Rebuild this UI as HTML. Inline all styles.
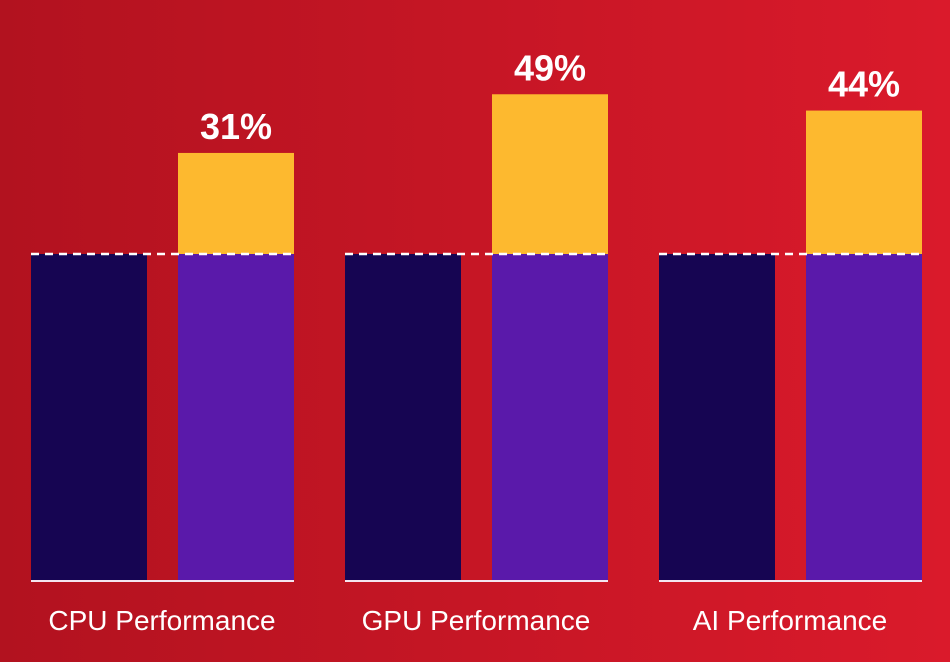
<!DOCTYPE html>
<html><head><meta charset="utf-8"><style>
body{margin:0;width:950px;height:662px;overflow:hidden}
svg{display:block}
text{font-family:"Liberation Sans",sans-serif;fill:#fff}
</style></head><body>
<svg id="chart" width="950" height="662" viewBox="0 0 950 662">
<defs><linearGradient id="bg" x1="0" x2="1" y1="0" y2="0"><stop offset="0" stop-color="#b2121f"/><stop offset="1" stop-color="#da1a2b"/></linearGradient></defs>
<rect width="950" height="662" fill="url(#bg)"/>
</svg>
<script>
const categories = ["CPU Performance","GPU Performance","AI Performance"];
const baseValues = [100,100,100];
const gainValues = [31,49,44];
const gainLabels = ["31%","49%","44%"];

const svg = document.getElementById('chart');
const NS = 'http://www.w3.org/2000/svg';
const baseY = 580, unitPx = 3.26;
const y = v => baseY - v * unitPx;
const groupX = i => 31 + i * 314;
function mk(tag, attrs){const e=document.createElementNS(NS,tag);for(const k in attrs)e.setAttribute(k,attrs[k]);svg.appendChild(e);return e;}
categories.forEach((c,i)=>{
  const gx = groupX(i);
  const r1 = mk('rect',{x:gx,y:y(baseValues[i]),width:116,height:baseY-y(baseValues[i]),fill:'#160552'});
  
  
  const r2 = mk('rect',{x:gx+147,y:y(baseValues[i]),width:116,height:baseY-y(baseValues[i]),fill:'#5a19aa'});
  
  
  const top = y(baseValues[i]+gainValues[i]);
  const r3 = mk('rect',{x:gx+147,y:top,width:116,height:y(baseValues[i])-top,fill:'#fdb92f'});
  
  
  const d = mk('line',{x1:gx,x2:gx+263,y1:y(baseValues[i]),y2:y(baseValues[i]),stroke:'#fff','stroke-width':2.5,'stroke-dasharray':'8 6'});
  
  
  const b = mk('line',{x1:gx,x2:gx+263,y1:baseY+1,y2:baseY+1,stroke:'#f4e6f0','stroke-width':2});
  
  
  const t = mk('text',{x:gx+205,y:top-14,'text-anchor':'middle','font-size':36,'font-weight':'bold'});
  t.textContent = gainLabels[i];
  
  
  const l = mk('text',{x:gx+131,y:630,'text-anchor':'middle','font-size':28});
  l.textContent = c;
  
  
});
</script>
</body></html>
